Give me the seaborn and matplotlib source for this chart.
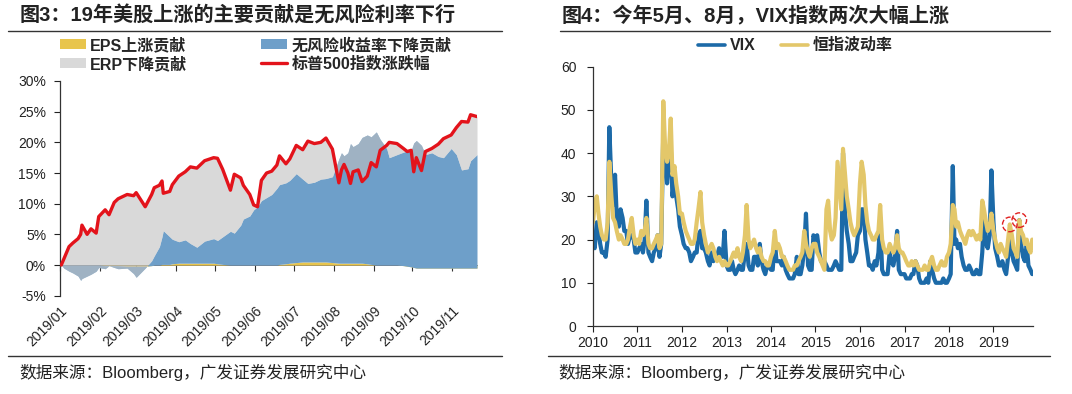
import numpy as np
import pandas as pd
import matplotlib
matplotlib.use('Agg')
import matplotlib.pyplot as plt
import matplotlib.dates as mdates
from matplotlib.patches import Patch
from matplotlib.lines import Line2D
from matplotlib.ticker import PercentFormatter, NullFormatter
import seaborn as sns

sns.set_style('ticks')
plt.rcParams['font.family'] = ['Liberation Sans', 'Noto Sans CJK SC']
plt.rcParams['axes.unicode_minus'] = False

# ---------------- Left chart data (percent) ----------------
spx_dates = ['2019-01-02', '2019-01-04', '2019-01-08', '2019-01-11', '2019-01-15', '2019-01-17',
             '2019-01-18', '2019-01-22', '2019-01-25', '2019-01-29', '2019-01-31', '2019-02-05',
             '2019-02-08', '2019-02-12', '2019-02-15', '2019-02-22', '2019-02-27', '2019-03-01',
             '2019-03-08', '2019-03-13', '2019-03-15', '2019-03-19', '2019-03-21', '2019-03-22',
             '2019-03-27', '2019-03-29', '2019-04-03', '2019-04-08', '2019-04-12', '2019-04-17',
             '2019-04-23', '2019-04-30', '2019-05-03', '2019-05-07', '2019-05-13', '2019-05-16',
             '2019-05-21', '2019-05-23', '2019-05-28', '2019-05-31', '2019-06-03', '2019-06-06',
             '2019-06-10', '2019-06-14', '2019-06-18', '2019-06-20', '2019-06-25', '2019-06-28',
             '2019-07-03', '2019-07-08', '2019-07-12', '2019-07-17', '2019-07-22', '2019-07-26',
             '2019-07-31', '2019-08-05', '2019-08-07', '2019-08-09', '2019-08-12', '2019-08-14',
             '2019-08-16', '2019-08-20', '2019-08-23', '2019-08-27', '2019-08-30', '2019-09-03',
             '2019-09-06', '2019-09-11', '2019-09-13', '2019-09-19', '2019-09-24', '2019-09-27',
             '2019-09-30', '2019-10-02', '2019-10-04', '2019-10-08', '2019-10-11', '2019-10-16',
             '2019-10-21', '2019-10-25', '2019-10-31', '2019-11-04', '2019-11-08', '2019-11-13',
             '2019-11-15', '2019-11-20']
spx_ret = [0.0, 1.0, 3.0, 3.6, 4.3, 5.0,
           6.5, 5.0, 5.9, 5.2, 7.9, 9.0,
           8.2, 10.2, 10.8, 11.5, 11.3, 11.8,
           9.5, 11.5, 12.6, 13.0, 13.7, 11.7,
           12.0, 13.1, 14.5, 15.2, 16.0, 15.8,
           17.0, 17.5, 17.4, 15.6, 12.2, 14.8,
           14.2, 13.0, 11.5, 9.8, 9.5, 13.8,
           15.0, 15.3, 16.3, 17.8, 16.5, 17.3,
           19.5, 18.8, 20.2, 19.8, 20.0, 20.7,
           18.9, 13.4, 15.5, 16.4, 15.0, 13.3,
           15.2, 15.5, 13.6, 14.5, 16.7, 16.0,
           18.7, 19.5, 20.0, 19.8, 19.0, 18.5,
           18.7, 15.2, 17.5, 15.4, 18.5, 19.0,
           19.7, 20.6, 21.2, 22.4, 23.4, 23.3,
           24.5, 24.2]
rf_contrib = [0.0, -0.5, -1.0, -1.3, -1.8, -2.5,
              -2.2, -1.8, -1.5, -1.0, -0.4, -0.5,
              0.0, -0.3, -0.5, -0.3, -1.2, -1.8,
              -0.3, 0.8, 1.5, 3.0, 4.5, 5.5,
              4.5, 4.0, 3.5, 3.8, 3.2, 2.6,
              3.6, 4.0, 3.8, 4.5, 5.5, 5.2,
              6.5, 7.5, 8.0, 9.0, 9.5, 10.5,
              11.0, 11.5, 12.5, 13.0, 13.2, 13.5,
              14.5, 13.5, 12.8, 13.0, 13.5, 13.6,
              14.0, 17.0, 18.0, 17.5, 18.0, 19.5,
              19.0, 19.5, 20.5, 21.0, 20.8, 21.7,
              20.5, 19.0, 17.5, 18.0, 18.5, 18.8,
              19.0, 20.3, 20.8, 20.0, 18.5, 18.8,
              18.2, 18.0, 19.5, 18.5, 16.0, 16.2,
              17.5, 18.5]
eps_contrib = [0.0, 0.0, 0.0, 0.0, 0.0, 0.0,
               0.0, 0.0, 0.0, 0.0, 0.0, -0.1,
               -0.1, -0.1, -0.1, -0.2, -0.2, -0.2,
               -0.2, -0.1, 0.0, 0.0, 0.1, 0.1,
               0.1, 0.2, 0.3, 0.3, 0.3, 0.3,
               0.3, 0.3, 0.2, 0.1, 0.0, 0.0,
               0.0, 0.0, 0.0, 0.0, 0.0, 0.0,
               0.0, 0.0, 0.0, 0.1, 0.2, 0.3,
               0.4, 0.5, 0.5, 0.5, 0.5, 0.5,
               0.4, 0.3, 0.3, 0.3, 0.3, 0.3,
               0.3, 0.3, 0.3, 0.2, 0.1, 0.0,
               0.0, 0.0, 0.0, 0.0, -0.1, -0.2,
               -0.3, -0.4, -0.5, -0.5, -0.5, -0.5,
               -0.5, -0.5, -0.5, -0.5, -0.5, -0.5,
               -0.5, -0.5]
left_month_labels = ['2019/01', '2019/02', '2019/03', '2019/04', '2019/05', '2019/06',
                     '2019/07', '2019/08', '2019/09', '2019/10', '2019/11']
left_legend = ['EPS上涨贡献', 'ERP下降贡献', '无风险收益率下降贡献', '标普500指数涨跌幅']

# ---------------- Right chart data (semi-monthly) ----------------
vix = [20, 18, 24, 22, 19, 17, 17, 16, 20, 46, 33, 28, 35, 25, 23, 27, 25, 22, 22, 19, 21, 21, 20, 17,
       17, 18, 19, 17, 20, 29, 17, 16, 15, 17, 18, 21, 16, 19, 45, 40, 33, 38, 42, 30, 34, 30, 27, 23,
       21, 19, 18, 18, 17, 15, 16, 17, 17, 21, 22, 18, 18, 17, 15, 14, 17, 15, 16, 16, 18, 17, 16, 22,
       14, 13, 13, 15, 13, 12, 13, 14, 13, 13, 17, 19, 14, 13, 13, 16, 16, 14, 19, 15, 13, 12, 14, 14,
       13, 13, 20, 15, 15, 15, 14, 16, 13, 12, 11, 11, 11, 12, 16, 12, 12, 14, 18, 26, 14, 13, 13, 21,
       20, 21, 17, 15, 15, 15, 14, 13, 13, 13, 14, 15, 14, 13, 13, 40, 26, 22, 19, 15, 15, 16, 17, 21,
       22, 27, 27, 20, 17, 14, 14, 13, 15, 14, 17, 25, 13, 12, 12, 12, 17, 15, 14, 16, 22, 13, 12, 12,
       12, 11, 11, 11, 12, 12, 15, 14, 11, 10, 10, 10, 11, 10, 15, 13, 11, 10, 10, 10, 10, 11, 10, 10,
       11, 12, 37, 19, 20, 18, 19, 16, 14, 13, 13, 14, 13, 12, 12, 13, 12, 12, 17, 25, 19, 18, 21, 36,
       24, 18, 16, 14, 14, 15, 13, 12, 16, 20, 17, 15, 14, 13, 24.5, 19, 16, 15, 19, 14, 13, 12]
hsi_vol = [24, 28, 30, 26, 23, 21, 20, 20, 24, 38, 30, 25, 24, 22, 20, 21, 20, 19, 19, 20, 23, 25, 21, 19,
           20, 19, 22, 21, 22, 25, 19, 18, 18, 19, 20, 21, 18, 19, 52, 42, 38, 40, 48, 35, 37, 33, 30, 26,
           26, 24, 22, 21, 20, 19, 19, 20, 24, 27, 31, 24, 21, 19, 17, 18, 19, 18, 16, 15, 16, 15, 14, 15,
           14, 14, 15, 16, 17, 16, 18, 16, 15, 17, 21, 28, 20, 18, 19, 20, 18, 17, 18, 16, 15, 15, 14, 14,
           16, 17, 22, 18, 19, 18, 16, 16, 15, 14, 13, 13, 13, 14, 14, 15, 16, 17, 22, 19, 17, 16, 18, 19,
           19, 17, 16, 15, 14, 13, 27, 29, 22, 20, 21, 25, 38, 33, 27, 41, 35, 30, 27, 24, 22, 21, 22, 23,
           33, 38, 35, 28, 24, 22, 21, 20, 20, 21, 22, 28, 20, 18, 17, 17, 19, 18, 17, 18, 21, 18, 17, 17,
           16, 15, 14, 14, 15, 14, 15, 14, 13, 13, 13, 14, 13, 13, 15, 16, 14, 13, 13, 14, 15, 14, 14, 16,
           17, 19, 28, 27, 23, 24, 22, 21, 20, 19, 21, 22, 21, 22, 21, 20, 21, 20, 29, 27, 24, 22, 23, 26,
           22, 20, 18, 17, 19, 18, 17, 16, 20, 23.5, 21, 18, 17, 16, 24.5, 22, 21, 19, 20, 18, 17, 20]
right_legend = ['VIX', '恒指波动率']
highlight_dates = ['2019-05-15', '2019-08-01']

# ---------------- Colors ----------------
C_EPS = '#e8c54d'
C_RF = '#6e9fc9'
C_ERP = '#c0c0c0'
C_RED = '#e3131b'
C_VIX = '#1c6aa8'
C_HSI = '#e3c76a'
TXT = '#222222'

fig = plt.figure(figsize=(10.72, 3.94), dpi=100)
W, H = 1072, 394

def fx(x):
    return x / W

def fy(y):
    return 1 - y / H

# ======== Left panel ========
ax1 = fig.add_axes([fx(60), fy(295.7), fx(417), 214.7 / H])
d1 = pd.to_datetime(spx_dates)
sp = np.array(spx_ret, float)
rf = np.array(rf_contrib, float)
eps = np.array(eps_contrib, float)
base_rf = eps
top_rf = eps + rf
ax1.fill_between(d1, 0, eps, color=C_EPS, lw=0, zorder=1)
ax1.fill_between(d1, base_rf, top_rf, color=C_RF, lw=0, zorder=2)
ax1.fill_between(d1, top_rf, sp, color=C_ERP, alpha=0.6, lw=0, zorder=3)
sns.lineplot(x=d1, y=sp, ax=ax1, color=C_RED, lw=2.4, zorder=5, legend=False)

ax1.set_ylim(-5, 30)
ax1.set_yticks(np.arange(-5, 31, 5))
ax1.yaxis.set_major_formatter(PercentFormatter(xmax=100, decimals=0))
ax1.set_xlim(pd.Timestamp('2019-01-01'), d1[-1])
months = pd.date_range('2019-01-01', '2019-11-01', freq='MS')
ax1.set_xticks(months)
ax1.set_xticklabels(left_month_labels, rotation=45, ha='right', va='top', rotation_mode='anchor')
ax1.tick_params(axis='x', length=0, pad=6, labelsize=10, colors=TXT)
ax1.tick_params(axis='y', length=4, width=0.8, pad=6, labelsize=10, colors=TXT)
for s in ['top', 'right', 'bottom']:
    ax1.spines[s].set_visible(False)
ax1.spines['left'].set_color('#333333')
ax1.spines['left'].set_linewidth(0.9)
ax1.set_xlabel('')
ax1.set_ylabel('')

sec = ax1.secondary_xaxis(5 / 35)
sec.xaxis.set_ticks_position('bottom')
sec.set_xticks(mdates.date2num(months))
sec.xaxis.set_major_formatter(NullFormatter())
sec.tick_params(axis='x', direction='out', length=4, width=0.8, color='#333333',
                labelbottom=False, labeltop=False, bottom=True, top=False)
sec.spines['bottom'].set_color('#555555')
sec.spines['bottom'].set_linewidth(0.6)

h_left = [Patch(facecolor=C_EPS, edgecolor='none'),
          Patch(facecolor='#d9d9d9', edgecolor='none'),
          Patch(facecolor=C_RF, edgecolor='none'),
          Line2D([], [], color=C_RED, lw=2.4)]
fig.legend(h_left, left_legend, loc='upper left', bbox_to_anchor=(fx(60), fy(37)),
           ncol=2, frameon=False, borderpad=0, borderaxespad=0,
           prop={'weight': 'bold', 'size': 11.5}, handlelength=1.6, handleheight=0.55,
           handletextpad=0.3, columnspacing=4.6, labelspacing=0.2)

# ======== Right panel ========
ax2 = fig.add_axes([fx(593), fy(326), fx(439.7), 259.3 / H])
d2 = pd.date_range('2010-01-01', '2019-11-15', freq='SMS')
sns.lineplot(x=d2, y=np.array(vix, float), ax=ax2, color=C_VIX, lw=3.0, legend=False)
sns.lineplot(x=d2, y=np.array(hsi_vol, float), ax=ax2, color=C_HSI, lw=3.0, legend=False)
hd = pd.to_datetime(highlight_dates)
hv = [max(vix[d2.get_loc(t)], hsi_vol[d2.get_loc(t)]) for t in hd]
ax2.scatter(hd, hv, s=110, facecolors='none', edgecolors='#e02020', linewidths=1.0,
            linestyle='--', zorder=6)
ax2.set_ylim(0, 60)
ax2.set_yticks(np.arange(0, 61, 10))
ax2.set_xlim(pd.Timestamp('2010-01-01'), pd.Timestamp('2019-11-19'))
years = pd.date_range('2010-01-01', '2019-01-01', freq='YS')
ax2.set_xticks(years)
ax2.xaxis.set_major_formatter(mdates.DateFormatter('%Y'))
ax2.tick_params(axis='x', length=4, width=0.8, pad=3, labelsize=10, colors=TXT)
ax2.tick_params(axis='y', length=4, width=0.8, pad=8, labelsize=10, colors=TXT)
for s in ['top', 'right']:
    ax2.spines[s].set_visible(False)
for s in ['left', 'bottom']:
    ax2.spines[s].set_color('#333333')
    ax2.spines[s].set_linewidth(0.9)
ax2.set_xlabel('')
ax2.set_ylabel('')

h_right = [Line2D([], [], color=C_VIX, lw=2.6), Line2D([], [], color=C_HSI, lw=2.6)]
fig.legend(h_right, right_legend, loc='upper left', bbox_to_anchor=(fx(698), fy(38)),
           ncol=2, frameon=False, borderpad=0, borderaxespad=0,
           prop={'weight': 'bold', 'size': 11.5}, handlelength=1.7,
           handletextpad=0.3, columnspacing=1.6)

# ======== Titles, rules, sources ========
fig.text(fx(20), fy(16), '图3：19年美股上涨的主要贡献是无风险利率下行', fontsize=14.5,
         fontweight='bold', va='center', ha='left', color=TXT)
fig.text(fx(562), fy(16), '图4：今年5月、8月，VIX指数两次大幅上涨', fontsize=14.5,
         fontweight='bold', va='center', ha='left', color=TXT)
for (x0, x1, y) in [(8, 502, 31), (560, 1050, 31), (8, 502, 356), (548, 1050, 356)]:
    fig.add_artist(Line2D([fx(x0), fx(x1)], [fy(y), fy(y)], transform=fig.transFigure,
                          color='#333333', lw=1.0))
src = '数据来源：Bloomberg，广发证券发展研究中心'
fig.text(fx(19), fy(372), src, fontsize=12, va='center', ha='left', color=TXT)
fig.text(fx(558), fy(372), src, fontsize=12, va='center', ha='left', color=TXT)

fig.savefig('out.png', dpi=100)
